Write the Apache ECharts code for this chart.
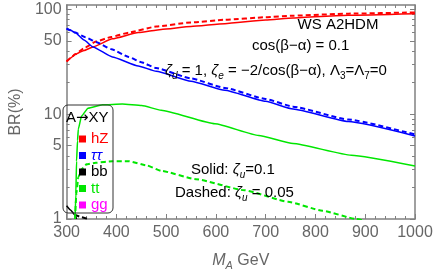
<!DOCTYPE html>
<html><head><meta charset="utf-8">
<script src="https://cdn.jsdelivr.net/npm/echarts@6/dist/echarts.min.js"></script>
<style>html,body{margin:0;padding:0;background:#fff}#c{width:436px;height:276px}</style>
</head><body><div id="c"></div>
<script>
// ---- data ----
const xTickValues = [300, 400, 500, 600, 700, 800, 900, 1000];
const yMajorTicks = [1, 5, 10, 50, 100];
const yMinorTicks = [2, 3, 4, 6, 7, 8, 9, 20, 30, 40, 60, 70, 80, 90];

const hzSolidX = [300, 308, 317, 335, 353, 392, 444, 490, 550, 618, 700, 755, 866, 1000];
const hzSolidY = [31.8, 34.3, 37.2, 40.5, 43.8, 52.3, 60, 64.3, 68.5, 73, 79, 82.7, 88, 91];
const hzDashX = [300, 308, 317, 338, 359, 390, 425, 480, 550, 618, 700, 755, 866, 1000];
const hzDashY = [31.8, 34.3, 37.2, 43.5, 49.4, 54.5, 60, 68.5, 75, 79.5, 84, 87, 91, 93.5];

const tauSolidX = [300, 308, 317, 335, 353, 392, 444, 480, 550, 618, 700, 755, 866, 1000];
const tauSolidY = [65.6, 63, 60, 51, 43.8, 35.1, 28.8, 25.7, 20.65, 16.9, 13.25, 11.2, 8.5, 6.2];
const tauDashX = [300, 308, 317, 338, 359, 390, 425, 450, 480, 550, 618, 700, 755, 866, 1000];
const tauDashY = [65.6, 63, 60, 54.3, 48.9, 41.7, 35.1, 31.3, 27.5, 21.9, 17.8, 13.96, 11.8, 8.9, 6.4];

const bbSolidX = [300, 308, 316, 320];
const bbSolidY = [1.34, 1.22, 1.1, 1.0];
const bbDashX = [316, 330, 343];
const bbDashY = [1.1, 1.04, 1.0];

const ttSolidX = [317, 318.6, 320, 322, 323.5, 330, 343, 372, 412, 451, 490, 598, 686, 755, 872, 1000];
const ttSolidY = [1.0, 1.75, 3.56, 5.6, 7.2, 9.6, 11.4, 12.3, 12.5, 12.1, 10.9, 8.1, 6.27, 5.25, 4.06, 3.2];
const ttDashX = [317, 319.6, 323.5, 330, 340, 359, 392, 425, 461, 490, 560, 657, 745, 814, 882, 910];
const ttDashY = [1.0, 1.75, 2.5, 2.98, 3.32, 3.44, 3.56, 3.56, 3.25, 2.88, 2.4, 1.88, 1.46, 1.2, 1.0, 0.93];

const ggX = [];
const ggY = [];

const legendNames = ['hZ', 'ττ', 'bb', 'tt', 'gg'];
const colors = {hZ: '#ff0000', 'ττ': '#0000ff', bb: '#000000', tt: '#00e600', gg: '#ff00ff'};

// ---- chart ----
const zip = (xs, ys) => xs.map((x, i) => [x, ys[i]]);
const FONT = 'Liberation Sans';
const AX = '#808080';
const LBL = '#666666';

function line(name, xs, ys, dashed) {
  return {
    type: 'line', name: name, data: zip(xs, ys), showSymbol: false, symbol: 'none',
    smooth: 0.15, smoothMonotone: 'x', color: colors[name], clip: true,
    lineStyle: {color: colors[name], width: dashed ? 2 : 1.5, type: dashed ? [5, 3] : 'solid'},
    emphasis: {disabled: true}, silent: true
  };
}

function yAx(pos, ticks, len, labels, showLine) {
  return {
    type: 'log', logBase: 10, min: 1, max: 110, position: pos,
    axisLine: {show: showLine, lineStyle: {color: AX, width: 1.5}},
    axisTick: {show: true, inside: true, length: len, customValues: ticks, lineStyle: {color: AX, width: 1}},
    axisLabel: labels ? {show: true, customValues: yMajorTicks, color: LBL, fontSize: 16, fontFamily: FONT, margin: 5,
      formatter: v => String(Math.round(v))} : {show: false},
    splitLine: {show: false}, minorTick: {show: false}, minorSplitLine: {show: false}
  };
}
function xAx(pos, labels) {
  return {
    type: 'value', min: 300, max: 1000, interval: 100, position: pos,
    axisLine: {show: true, lineStyle: {color: AX, width: 1.5}},
    axisTick: {show: true, inside: true, length: 5, lineStyle: {color: AX, width: 1}},
    minorTick: {show: true, splitNumber: 5, length: 3, lineStyle: {color: AX, width: 1}},
    axisLabel: labels ? {show: true, color: LBL, fontSize: 16, fontFamily: FONT, margin: 6,
      customValues: xTickValues, formatter: v => String(v)} : {show: false},
    splitLine: {show: false}
  };
}

const xa0 = xAx('bottom', true);
xa0.name = '{i|M}{s|A} GeV';
xa0.nameLocation = 'middle';
xa0.nameGap = 32;
xa0.nameTextStyle = {color: LBL, fontSize: 16, fontFamily: FONT,
  rich: {i: {fontStyle: 'italic', fontSize: 16, color: LBL, fontFamily: FONT, lineHeight: 20},
         s: {fontSize: 11, fontStyle: 'italic', color: LBL, fontFamily: FONT, verticalAlign: 'bottom', lineHeight: 12}}};
const ya0 = yAx('left', yMajorTicks, 5, true, true);
ya0.name = 'BR(%)';
ya0.nameLocation = 'middle';
ya0.nameGap = 40;
ya0.nameRotate = 90;
ya0.nameTextStyle = {color: LBL, fontSize: 16, fontFamily: FONT};

const series = [
  line('hZ', hzSolidX, hzSolidY, false),
  line('hZ', hzDashX, hzDashY, true),
  line('ττ', tauSolidX, tauSolidY, false),
  line('ττ', tauDashX, tauDashY, true),
  line('bb', bbSolidX, bbSolidY, false),
  line('bb', bbDashX, bbDashY, true),
  line('tt', ttSolidX, ttSolidY, false),
  line('tt', ttDashX, ttDashY, true),
  line('gg', ggX, ggY, false)
];

const rt = {
  n: {fontSize: 15, fontFamily: FONT, color: '#000', lineHeight: 20},
  i: {fontSize: 15, fontFamily: FONT, color: '#000', fontStyle: 'italic', lineHeight: 20},
  a: {fontSize: 15, fontFamily: 'DejaVu Sans', color: '#000', lineHeight: 20},
  s: {fontSize: 10, fontFamily: FONT, color: '#000', verticalAlign: 'bottom', lineHeight: 13},
  si: {fontSize: 10, fontFamily: FONT, color: '#000', fontStyle: 'italic', verticalAlign: 'bottom', lineHeight: 13}
};

const chart = echarts.init(document.getElementById('c'), null, {renderer: 'canvas'});
chart.setOption({
  animation: false,
  backgroundColor: '#fff',
  grid: {left: 58, right: 21, top: 5, bottom: 49.5, containLabel: false},
  xAxis: [xa0, xAx('top', false)],
  yAxis: [ya0, yAx('left', yMinorTicks, 3, false, false), yAx('right', yMajorTicks, 5, false, true), yAx('right', yMinorTicks, 3, false, false)],
  legend: {
    show: true, orient: 'vertical', left: 74, top: 126, icon: 'rect', itemWidth: 7, itemHeight: 7, itemGap: 0.5,
    selectedMode: false, itemStyle: {borderWidth: 0}, lineStyle: {width: 0},
    textStyle: {fontSize: 15, fontFamily: FONT, lineHeight: 16, height: 16},
    data: legendNames.map(n => ({name: n, textStyle: {color: colors[n], fontStyle: n === 'ττ' ? 'italic' : 'normal'}}))
  },
  graphic: [
    {type: 'rect', shape: {x: 63, y: 105, width: 50, height: 108, r: 5}, style: {fill: 'none', stroke: '#333', lineWidth: 1}, silent: true, z: 90},
    {type: 'text', x: 66, y: 118, silent: true, z: 100, style: {text: '{n|A}{a|→}{n|XY}', rich: rt, textVerticalAlign: 'middle'}},
    {type: 'text', x: 338, y: 25, silent: true, z: 100, style: {text: 'WS A2HDM', font: '15px ' + FONT, fill: '#000', textAlign: 'center', textVerticalAlign: 'middle'}},
    {type: 'text', x: 252, y: 46, silent: true, z: 100, style: {text: '{n|cos(β−α) = 0.1}', rich: rt, textVerticalAlign: 'middle'}},
    {type: 'text', x: 165, y: 71, silent: true, z: 100, style: {text: '{i|ζ}{si|d}{n| = 1, }{i|ζ}{si|e}{n| = −2/cos(β−α), Λ}{s|3}{n|=Λ}{s|7}{n|=0}', rich: rt, textVerticalAlign: 'middle'}},
    {type: 'text', x: 191, y: 170, silent: true, z: 100, style: {text: '{n|Solid: }{i|ζ}{si|u}{n|=0.1}', rich: rt, textVerticalAlign: 'middle'}},
    {type: 'text', x: 175, y: 193, silent: true, z: 100, style: {text: '{n|Dashed: }{i|ζ}{si|u}{n| = 0.05}', rich: rt, textVerticalAlign: 'middle'}}
  ],
  series: series
});
</script></body></html>
